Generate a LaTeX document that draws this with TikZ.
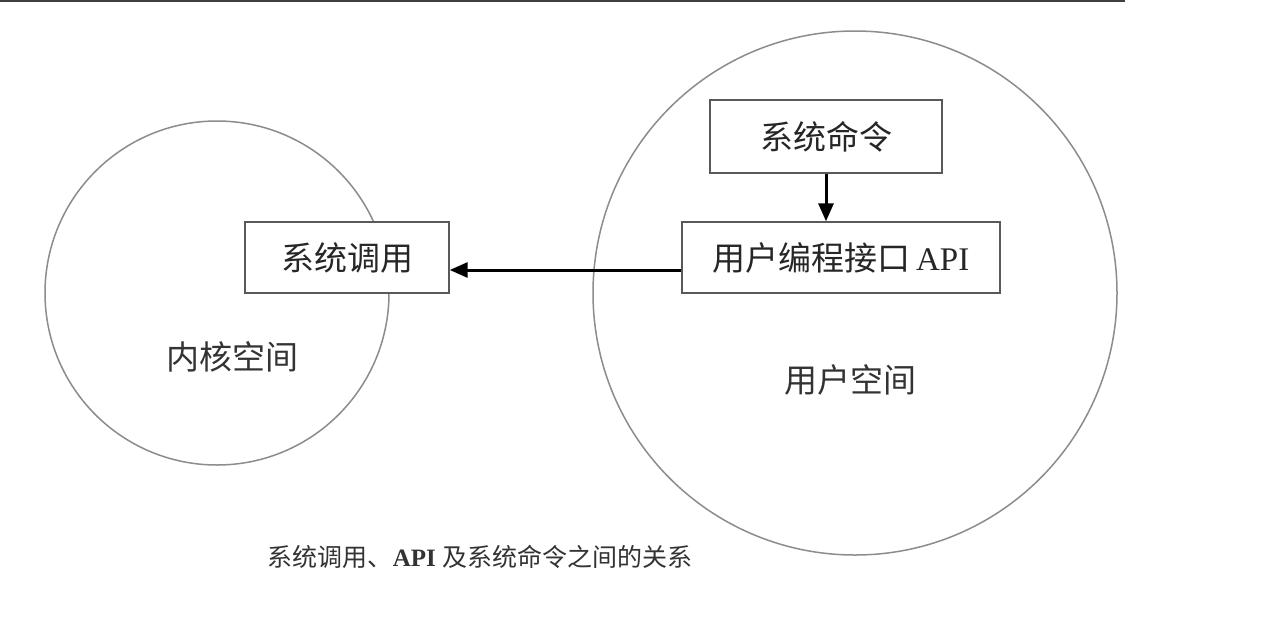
\documentclass[tikz,border=0pt]{standalone}
\usepackage{fontspec}
\setmainfont{Liberation Serif}
\newfontfamily\cjk{Noto Sans CJK SC}
\usetikzlibrary{arrows.meta, positioning}
\tikzstyle{space} = [circle, draw=gray!90, line width=1.5pt, inner sep=0pt]
\tikzstyle{module} = [rectangle, draw=black!65, fill=white, line width=1.4pt, inner sep=0pt, font=\fontsize{33}{40}\selectfont, text=black!85]
\tikzstyle{label} = [font=\cjk\fontsize{33}{40}\selectfont, text=black!80]
\tikzstyle{arrow} = [line width=3pt, -{Triangle[length=18pt,width=15pt]}]

\begin{document}
\begin{tikzpicture}[x=1pt, y=-1pt]
\useasboundingbox (0,0) rectangle (1270,625);
\fill[white] (0,0) rectangle (1270,625);

% top rule
\draw[black!75, line width=2.5pt] (0,1) -- (1125,1);

% the two spaces
\node (kernel) [space, minimum size=344pt] at (217,293) {};
\node (user) [space, minimum size=524pt] at (855,293) {};

% modules
\node (syscall) [module, minimum width=204pt, minimum height=71pt] at (347,257.5) {\cjk 系统调用};
\node (cmd) [module, minimum width=232pt, minimum height=73pt] at (826,136.5) {\cjk 系统命令};
\node (api) [module, minimum width=318pt, minimum height=71pt] at (841,257.5) {{\cjk 用户编程接口}\,API};

% space names
\node (kname) [label] at (232,357) {内核空间};
\node (uname) [label] at (850,380) {用户空间};

% caption
\node (caption) [font=\fontsize{25}{30}\selectfont, text=black!80] at (480,557) {{\cjk 系统调用、}\textbf{API}\ {\cjk 及系统命令之间的关系}};

\draw [arrow] (cmd.south) -- (cmd.south |- api.north);
\draw [arrow] ([yshift=-12.5pt]api.west) -- ([yshift=-12.5pt]syscall.east);

\end{tikzpicture}
\end{document}
